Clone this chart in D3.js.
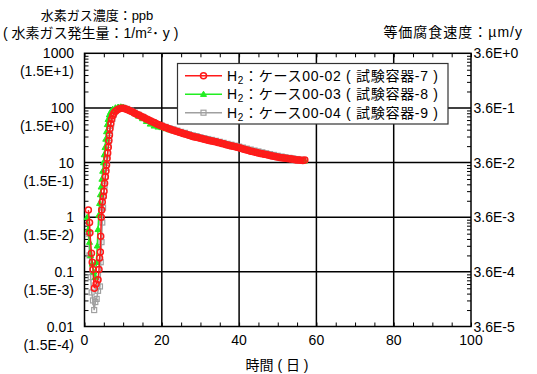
<!DOCTYPE html>
<head>
  <meta charset="utf-8">
  <style>
  body { margin: 0; background: #fff; }
  text {
    font-family: 'Liberation Sans', Arial, 'Noto Sans CJK JP', sans-serif;
    font-size: 14px;
    fill: #000;
  }
  .grid line { stroke: #000; stroke-width: 1.5; }
  .axis path { display: none; }
  .axis line { stroke: #000; stroke-width: 1; }
  </style>
</head>
<body>
  <svg id="chart"></svg>

  <script src="https://d3js.org/d3.v7.min.js"></script>
  <script>

  var width = 537,
      height = 374;

  // [day, ppb]
  var case02 = [[1.0,1.35],[1.3,0.8],[1.4,0.52],[1.8,0.22],[2.0,0.15],[2.2,0.11],[2.55,0.05],[3.0,0.06],
    [3.5,0.072],[3.75,0.11],[3.9,0.18],[4.1,0.23],[4.2,0.45],[4.35,1.0],[4.45,1.35],[4.6,1.9],[4.85,2.4],
    [5.05,3.0],[5.2,4.2],[5.4,5.5],[5.55,7],[5.7,9],[5.85,12],[6.0,15],[6.15,19],[6.3,25],[6.45,32],
    [6.6,42],[6.8,52],[7.0,62],[7.3,72],[7.6,80],[8.0,87],[8.5,93],[9.0,97],[9.5,99],[10,99],
    [10.5,97],[11,94],[11.5,91],[12,87],[12.5,84],[13,80],[13.5,77],[14,74],[14.5,71],[15,68],
    [15.5,66],[16,63],[16.5,61],[17,58],[17.5,56],[18,54],[18.5,52],[19,50],[19.5,48],[20,46.5],
    [20.5,45],[21,44],[21.5,42.5],[22,41],[22.5,40],[23,39],[23.5,38],[24,37],[24.5,36],[25,35],
    [25.5,34],[26,33.5],[26.5,32.5],[27,31.5],[27.5,31],[28,30],[28.5,29.5],[29,29],[29.5,28.5],[30,28],
    [30.5,27.2],[31,26.8],[31.5,26.2],[32,25.7],[32.5,25.2],[33,24.8],[33.5,24.3],[34,24],[34.5,23.4],
    [35,23],[35.5,22.4],[36,22],[36.5,21.5],[37,21],[37.5,20.6],[38,20.2],[38.5,19.8],[39,19.4],
    [39.5,19],[40,18.6],[40.5,18.2],[41,17.8],[41.5,17.4],[42,17],[42.5,16.6],[43,16.2],[43.5,15.9],
    [44,15.6],[44.5,15.3],[45,15],[45.5,14.7],[46,14.5],[46.5,14.2],[47,14],[47.5,13.7],[48,13.5],
    [48.5,13.2],[49,13],[49.5,12.8],[50,12.6],[50.5,12.4],[51,12.3],[51.5,12.1],[52,12],[52.5,11.9],
    [53,11.8],[53.5,11.6],[54,11.5],[54.5,11.3],[55,11.2],[55.5,11.1],[56,11],[56.5,10.9],[57,11.2]];

  var case03 = [[0.7,1.0],[1.0,0.6],[1.3,0.35],[1.6,0.2],[2.0,0.14],[2.4,0.1],[2.8,0.08],[3.1,0.15],
    [3.3,0.3],[3.5,0.6],[3.7,1.1],[3.9,1.8],[4.1,2.6],[4.3,3.6],[4.5,5],[4.7,7],[4.9,10],[5.1,14],
    [5.3,19],[5.5,27],[5.7,37],[5.9,50],[6.1,62],[6.4,75],[6.8,86],[7.3,95],[8,101],[8.7,104],
    [9.4,105],[10,103],[11,96],[12,88],[13,79],[14,71],[15,64],[16,57],[17,51],[18,47],[19,45],
    [20,44],[21,42],[22,40],[23,38.5],[24,37],[25,35],[26,33],[27,31.5],[28,30],[29,29],[30,28],
    [31,27],[32,26],[33,25],[34,24],[35,23],[36,22.2],[37,21.4],[38,20.6],[39,19.8],[40,19],
    [41,18.2],[42,17.4],[43,16.6],[44,16],[45,15.3],[46,14.7],[47,14.2],[48,13.6],[49,13.2],
    [50,12.8],[51,12.5],[52,12.2],[53,11.9],[54,11.6],[55,11.3],[56,11],[57,10.8]];

  var case04 = [[1.0,0.5],[1.3,0.2],[1.6,0.08],[1.85,0.042],[2.2,0.03],[2.5,0.02],[2.8,0.028],
    [3.15,0.032],[3.5,0.045],[4.0,0.054],[4.2,0.15],[4.4,0.35],[4.6,0.8],[4.8,1.5],[5.0,2.5],
    [5.2,3.8],[5.4,5.5],[5.6,8],[5.8,11],[6.0,15],[6.2,21],[6.4,28],[6.6,38],[6.9,50],[7.2,63],
    [7.6,76],[8.1,88],[8.7,97],[9.3,102],[10,101],[11,96],[12,89],[13,82],[14,75],[15,69],[16,63],
    [17,58],[18,54],[19,50],[20,47.5],[21,45],[22,42.5],[23,40.5],[24,38.5],[25,36.5],[26,35],
    [27,33],[28,31.5],[29,30.5],[30,29],[31,28],[32,27],[33,26],[34,25],[35,24],[36,23],[37,22],
    [38,21.2],[39,20.4],[40,19.6],[41,18.8],[42,18],[43,17.3],[44,16.6],[45,16],[46,15.4],[47,14.8],
    [48,14.3],[49,13.8],[50,13.3],[51,12.9],[52,12.5],[53,12.2],[54,11.9],[55,11.6],[56,11.3],[57,11]];

  var seriesNames = ['ケース00-02 ( 試験容器-7 )', 'ケース00-03 ( 試験容器-8 )', 'ケース00-04 ( 試験容器-9 )'];
  var decades = [1000, 100, 10, 1, 0.1, 0.01];
  var ppbLabels = ['1000', '100', '10', '1', '0.1', '0.01'];
  var genLabels = ['(1.5E+1)', '(1.5E+0)', '(1.5E-1)', '(1.5E-2)', '(1.5E-3)', '(1.5E-4)'];
  var rateLabels = ['3.6E+0', '3.6E-1', '3.6E-2', '3.6E-3', '3.6E-4', '3.6E-5'];
  var dayTicks = [0, 20, 40, 60, 80, 100];

  // plot box (note: "top" is reserved on window)
  var plotL = 84.5, plotR = 471, plotT = 53.3, plotB = 326.5;

  var x = d3.scaleLinear().domain([0, 100]).range([plotL, plotR]);
  var y = d3.scaleLog().domain([0.01, 1000]).range([plotB, plotT]);

  var svg = d3.select('#chart')
    .attr('width', width)
    .attr('height', height);

  svg.append('rect').attr('width', width).attr('height', height).attr('fill', '#fff');

  // minor log ticks
  var minor = [];
  decades.slice(1).forEach(function(d) {
    for (var k = 2; k <= 9; k++) minor.push(d * k);
  });

  svg.append('g').attr('class', 'axis')
    .attr('transform', 'translate(' + plotL + ',0)')
    .call(d3.axisLeft(y).tickValues(minor).tickSize(-4).tickFormat(''));
  svg.append('g').attr('class', 'axis')
    .attr('transform', 'translate(' + plotR + ',0)')
    .call(d3.axisRight(y).tickValues(minor).tickSize(-4).tickFormat(''));

  var minorX = d3.range(0, 101, 5);
  svg.append('g').attr('class', 'axis')
    .attr('transform', 'translate(0,' + plotB + ')')
    .call(d3.axisBottom(x).tickValues(minorX).tickSize(-4).tickFormat(''));
  svg.append('g').attr('class', 'axis')
    .attr('transform', 'translate(0,' + plotT + ')')
    .call(d3.axisTop(x).tickValues(minorX).tickSize(-4).tickFormat(''));

  // grid
  var grid = svg.append('g').attr('class', 'grid');
  grid.selectAll('.gx').data(dayTicks.slice(1, -1)).enter().append('line')
    .attr('x1', x).attr('x2', x).attr('y1', plotT).attr('y2', plotB);
  grid.selectAll('.gy').data(decades.slice(1, -1)).enter().append('line')
    .attr('y1', y).attr('y2', y).attr('x1', plotL).attr('x2', plotR);

  svg.append('rect')
    .attr('x', plotL).attr('y', plotT)
    .attr('width', plotR - plotL).attr('height', plotB - plotT)
    .attr('fill', 'none').attr('stroke', '#000').attr('stroke-width', 1.5);

  // tick labels
  svg.selectAll('.yl').data(decades).enter().append('text')
    .attr('x', 74).attr('y', function(d) { return y(d) + 5; })
    .attr('text-anchor', 'end')
    .text(function(d, i) { return ppbLabels[i]; });
  svg.selectAll('.yl2').data(decades).enter().append('text')
    .attr('x', 74).attr('y', function(d) { return y(d) + 23; })
    .attr('text-anchor', 'end')
    .text(function(d, i) { return genLabels[i]; });
  svg.selectAll('.yr').data(decades).enter().append('text')
    .attr('x', plotR + 2.5).attr('y', function(d) { return y(d) + 5; })
    .text(function(d, i) { return rateLabels[i]; });
  svg.selectAll('.xl').data(dayTicks).enter().append('text')
    .attr('x', x).attr('y', 345)
    .attr('text-anchor', 'middle')
    .text(function(d) { return d; });

  // titles
  svg.append('text').attr('x', 97).attr('y', 20).attr('text-anchor', 'middle')
    .style('font-size', '13px').text('水素ガス濃度：ppb');
  var t2 = svg.append('text').attr('x', 3).attr('y', 38);
  t2.append('tspan').text('( 水素ガス発生量：1/m');
  t2.append('tspan').attr('font-size', 9).attr('dy', -5).text('2');
  t2.append('tspan').attr('dy', 5).text('･ y )');
  svg.append('text').attr('x', 523).attr('y', 37).attr('text-anchor', 'end')
    .style('letter-spacing', '1px').text('等価腐食速度：µm/y');
  svg.append('text').attr('x', 277).attr('y', 370).attr('text-anchor', 'middle').text('時間 ( 日 )');

  // series
  var line = d3.line()
    .x(function(d) { return x(d[0]); })
    .y(function(d) { return y(d[1]); });

  var styles = [
    { data: case04, color: '#a0a0a0', shape: 'square' },
    { data: case03, color: '#22ee22', shape: 'triangle' },
    { data: case02, color: '#ff1a1a', shape: 'circle' }
  ];

  function marker(g, s, cx, cy) {
    if (s.shape === 'circle') {
      g.append('circle').attr('cx', cx).attr('cy', cy).attr('r', 3)
        .attr('fill', 'none').attr('stroke', s.color).attr('stroke-width', 1.5);
    } else if (s.shape === 'triangle') {
      g.append('path').attr('d', 'M' + cx + ',' + (cy - 3) + 'L' + (cx + 3) + ',' + (cy + 2.2) + 'L' + (cx - 3) + ',' + (cy + 2.2) + 'Z')
        .attr('fill', s.color).attr('stroke', s.color).attr('stroke-width', 1);
    } else {
      g.append('rect').attr('x', cx - 2.5).attr('y', cy - 2.5).attr('width', 5).attr('height', 5)
        .attr('fill', 'none').attr('stroke', s.color).attr('stroke-width', 1.2);
    }
  }

  styles.forEach(function(s) {
    var g = svg.append('g');
    g.append('path').datum(s.data)
      .attr('d', line)
      .attr('fill', 'none')
      .attr('stroke', s.color)
      .attr('stroke-width', 1.5);
    s.data.forEach(function(d) { marker(g, s, x(d[0]), y(d[1])); });
  });

  // legend
  var lg = svg.append('g');
  lg.append('rect').attr('x', 177.5).attr('y', 63.5).attr('width', 270.5).attr('height', 60.5)
    .attr('fill', '#fff').attr('stroke', '#333').attr('stroke-width', 1.2);
  var legendOrder = [styles[2], styles[1], styles[0]];
  legendOrder.forEach(function(s, i) {
    var ly = 75.7 + i * 18.5;
    lg.append('line').attr('x1', 185).attr('x2', 222).attr('y1', ly).attr('y2', ly)
      .attr('stroke', s.color).attr('stroke-width', 1.5);
    marker(lg, s, 203.5, ly);
    var t = lg.append('text').attr('x', 227).attr('y', ly + 5)
      .style('letter-spacing', '0.7px');
    t.append('tspan').text('H');
    t.append('tspan').attr('font-size', 10).attr('dy', 3).text('2');
    t.append('tspan').attr('dy', -3).text('：' + seriesNames[i]);
  });

  </script>
</body>
